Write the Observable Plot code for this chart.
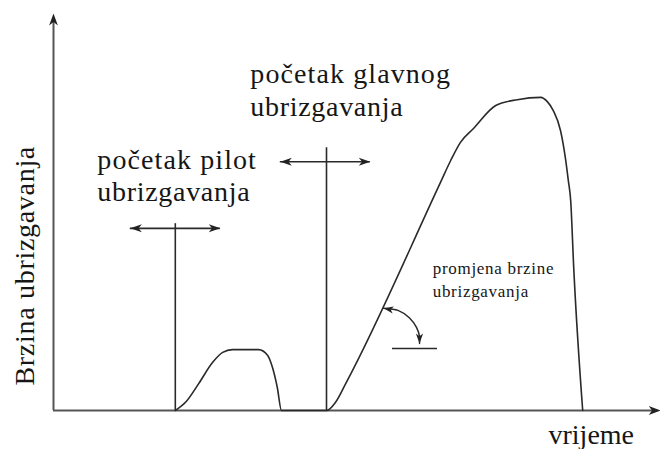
<!DOCTYPE html>
<html>
<head>
<meta charset="utf-8">
<script src="https://cdn.jsdelivr.net/npm/d3@7"></script>
<script src="https://cdn.jsdelivr.net/npm/@observablehq/plot@0.6"></script>
<style>
  html, body { margin: 0; padding: 0; background: #fff; }
  #chart svg { display: block; }
</style>
</head>
<body>
<div id="chart"></div>
<script>
// Injection rate curve (time units, rate units)
const curveT    = [20.3, 22.0, 24.2, 26.5, 28.2, 29.8, 34.2, 35.7, 36.5, 37.3, 38.0, 45.5, 47.0, 48.7, 64.5, 66.2, 67.8, 70.0, 73.7, 77.3, 81.2, 82.3, 83.3, 84.5, 85.3, 85.8, 86.2, 86.7, 88.2];
const curveRate = [0,    2.1,  6.9,  12.3, 14.9, 15.6, 15.6, 14.1, 11.0, 5.9,  0,    0,    2.1,  6.9,  58.5, 64.1, 68.7, 72.3, 78.2, 79.7, 80.3, 79.2, 76.9, 71.8, 64.9, 59.0, 53.8, 36.7, 0];

// Start-of-injection markers (vertical lines) and their double arrows
const markerT     = [20.3, 45.5];
const markerTop   = [47.9, 67.4];
const arrowLeftT  = [12.8, 37.8];
const arrowRightT = [27.8, 52.8];
const arrowRate   = [46.7, 63.8];

// Rate-of-change angle marker
const arcT    = [55.0, 57.5, 59.3, 60.5, 61.0, 61.0];
const arcRate = [26.2, 25.6, 23.8, 21.3, 19.0, 17.2];
const refT    = [56.5, 64.0];
const refRate = 15.9;

// Axis extents
const axisEndT = 101.2;
const axisEndRate = 101.8;

// Labels
const bigLabels = [
  {t: 7.3,  rate: 62.0, text: "početak pilot"},
  {t: 7.3,  rate: 53.8, text: "ubrizgavanja"},
  {t: 32.8, rate: 84.1, text: "početak glavnog"},
  {t: 32.8, rate: 75.4, text: "ubrizgavanja"}
];
const axisLabelX = [{t: 82.5, rate: -8.5, text: "vrijeme"}];
const smallLabels = [
  {t: 63.2, rate: 35.1, text: "promjena brzine"},
  {t: 63.2, rate: 29.2, text: "ubrizgavanja"}
];
const yLabel = [{t: -3.3, rate: 6.4, text: "Brzina ubrizgavanja"}];

// ---- build tables ----
const curve = curveT.map((t, i) => ({t, rate: curveRate[i]}));
const markers = markerT.map((t, i) => ({t, top: markerTop[i]}));
const arrows = arrowRate.map((rate, i) => ({t1: arrowLeftT[i], t2: arrowRightT[i], rate}));
const arc = arcT.map((t, i) => ({t, rate: arcRate[i]}));

function head(angleDeg, len = 11, hw = 3.6) {
  const a = angleDeg * Math.PI / 180;
  const dx = Math.cos(a), dy = Math.sin(a);
  const px = -dy, py = dx;
  return {
    draw(ctx) {
      ctx.moveTo(0, 0);
      ctx.lineTo(-len * dx + hw * px, -len * dy + hw * py);
      ctx.lineTo(-0.72 * len * dx, -0.72 * len * dy);
      ctx.lineTo(-len * dx - hw * px, -len * dy - hw * py);
      ctx.closePath();
    }
  };
}

const ink = "#2a2a2a";
const axisInk = "#555";
const serif = "Liberation Serif, Times New Roman, serif";

const chart = Plot.plot({
  width: 660,
  height: 449,
  margin: 0,
  x: {domain: [0, 100], range: [53, 653], axis: null},
  y: {domain: [0, 100], range: [410, 20], axis: null},
  style: {background: "#fff", overflow: "visible"},
  marks: [
    // axes
    Plot.ruleY([0], {x1: 0, x2: axisEndT - 1.2, stroke: axisInk, strokeWidth: 2}),
    Plot.ruleX([0], {y1: 0, y2: axisEndRate - 2, stroke: axisInk, strokeWidth: 2}),
    Plot.dot([{t: axisEndT, rate: 0}], {x: "t", y: "rate", r: 5, symbol: head(0, 12, 4.4), fill: "#222", stroke: "none"}),
    Plot.dot([{t: 0, rate: axisEndRate}], {x: "t", y: "rate", r: 5, symbol: head(-90, 12, 4.4), fill: "#222", stroke: "none"}),

    // injection rate curve
    Plot.line(curve, {x: "t", y: "rate", curve: "monotone-x", stroke: ink, strokeWidth: 1.6}),

    // start markers
    Plot.ruleX(markers, {x: "t", y1: 0, y2: "top", stroke: ink, strokeWidth: 1.6}),
    Plot.ruleY(arrows, {y: "rate", x1: "t1", x2: "t2", stroke: ink, strokeWidth: 1.6}),
    Plot.dot(arrows, {x: "t1", y: "rate", r: 5, symbol: head(180, 11.5, 4), fill: "#222", stroke: "none"}),
    Plot.dot(arrows, {x: "t2", y: "rate", r: 5, symbol: head(0, 11.5, 4), fill: "#222", stroke: "none"}),

    // angle marker
    Plot.line(arc, {x: "t", y: "rate", curve: "catmull-rom", stroke: ink, strokeWidth: 1.5}),
    Plot.dot([arc[0]], {x: "t", y: "rate", r: 5, symbol: head(190, 10, 3.6), fill: "#222", stroke: "none"}),
    Plot.dot([arc[arc.length - 1]], {x: "t", y: "rate", r: 5, symbol: head(90, 10, 3.6), fill: "#222", stroke: "none"}),
    Plot.ruleY([refRate], {x1: refT[0], x2: refT[1], stroke: ink, strokeWidth: 1.6}),

    // labels
    Plot.text(bigLabels, {x: "t", y: "rate", text: "text", textAnchor: "start", lineAnchor: "bottom", fontSize: 28, fontFamily: serif, fill: "#161616"}),
    Plot.text(axisLabelX, {x: "t", y: "rate", text: "text", textAnchor: "start", lineAnchor: "bottom", fontSize: 28, fontFamily: serif, fill: "#161616"}),
    Plot.text(smallLabels, {x: "t", y: "rate", text: "text", textAnchor: "start", lineAnchor: "bottom", fontSize: 17, fontFamily: serif, fill: "#161616"}),
    Plot.text(yLabel, {x: "t", y: "rate", text: "text", rotate: -90, textAnchor: "start", lineAnchor: "bottom", fontSize: 28, fontFamily: serif, fill: "#161616"})
  ]
});

// letter spacing to match the wider reference typeface
const spacing = new Map([
  ...bigLabels.map(d => [d.text, "1.1px"]),
  ...smallLabels.map(d => [d.text, "0.7px"]),
  ...yLabel.map(d => [d.text, "0.7px"])
]);
d3.select(chart).selectAll("text").each(function () {
  const s = spacing.get(this.textContent);
  if (s) this.setAttribute("letter-spacing", s);
});

document.getElementById("chart").appendChild(chart);
</script>
</body>
</html>
